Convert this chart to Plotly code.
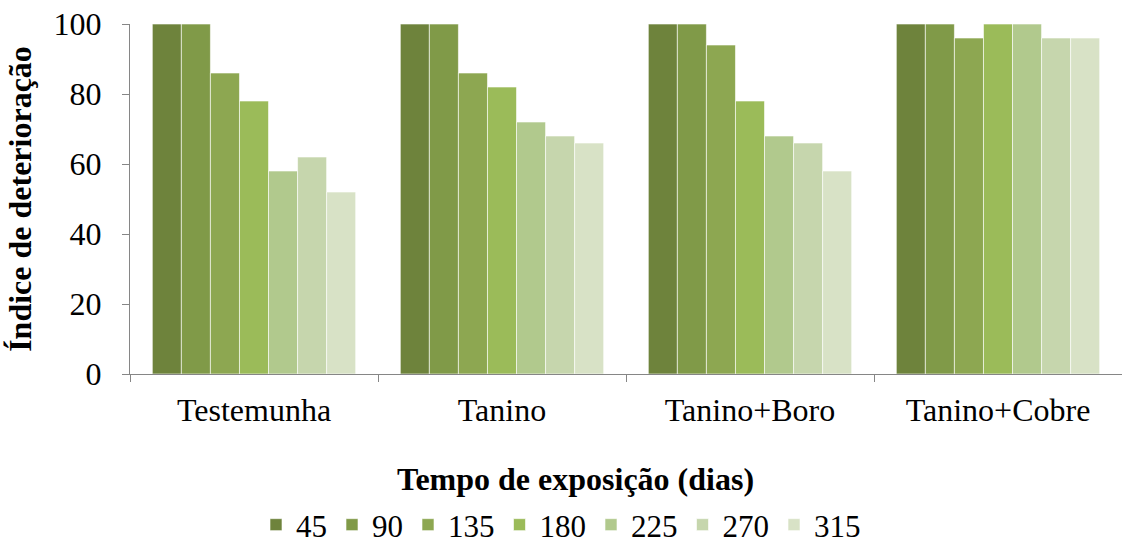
import plotly.graph_objects as go

categories = ["Testemunha", "Tanino", "Tanino+Boro", "Tanino+Cobre"]
series_names = ["45", "90", "135", "180", "225", "270", "315"]
values = {
    "45":  [100, 100, 100, 100],
    "90":  [100, 100, 100, 100],
    "135": [86, 86, 94, 96],
    "180": [78, 82, 78, 100],
    "225": [58, 72, 68, 100],
    "270": [62, 68, 66, 96],
    "315": [52, 66, 58, 96],
}
colors = ["#6E833C", "#809A48", "#8DA751", "#9BBB59", "#B1C98D", "#C6D6AD", "#D8E2C6"]
x_title = "Tempo de exposição (dias)"
y_title = "Índice de deterioração"

font_family = "Liberation Serif"
W, H = 1122, 544

fig = go.Figure()
for name, col in zip(series_names, colors):
    fig.add_trace(go.Bar(
        x=categories, y=values[name], name=name,
        marker=dict(color=col, line=dict(color="rgba(255,255,255,0.6)", width=1)),
    ))

fig.add_annotation(
    text=f"<b>{x_title}</b>", showarrow=False,
    xref="paper", yref="paper",
    x=(575 - 130) / (W - 130), xanchor="center",
    y=-(479 - 374) / 350, yanchor="middle",
    font=dict(size=32, family=font_family, color="black"),
)

fig.update_layout(
    width=W, height=H,
    barmode="group", bargap=0.18, bargroupgap=0,
    plot_bgcolor="white", paper_bgcolor="white",
    margin=dict(l=130, r=0, t=24, b=170),
    font=dict(family=font_family, size=32, color="black"),
    showlegend=True,
    legend=dict(orientation="h", x=0.5, xanchor="center", xref="container",
                y=1 - 525 / H, yanchor="middle", yref="container",
                font=dict(size=31), itemwidth=30, traceorder="normal"),
    xaxis=dict(
        showline=True, linecolor="#868686", linewidth=1,
        ticks="outside", tickson="boundaries", ticklen=7, tickcolor="#868686",
        showgrid=False, ticklabelstandoff=8,
    ),
    yaxis=dict(
        title=dict(text=f"<b>{y_title}</b>", standoff=12, font=dict(size=32)),
        range=[0, 100], dtick=20,
        showline=True, linecolor="#868686", linewidth=1,
        ticks="outside", ticklen=7, tickcolor="#868686",
        showgrid=False, zeroline=False,
        ticklabelstandoff=14,
    ),
)

fig.write_html("out.html", config={"displayModeBar": False},
               post_script="document.body.style.margin='0';document.body.style.overflow='hidden';")
